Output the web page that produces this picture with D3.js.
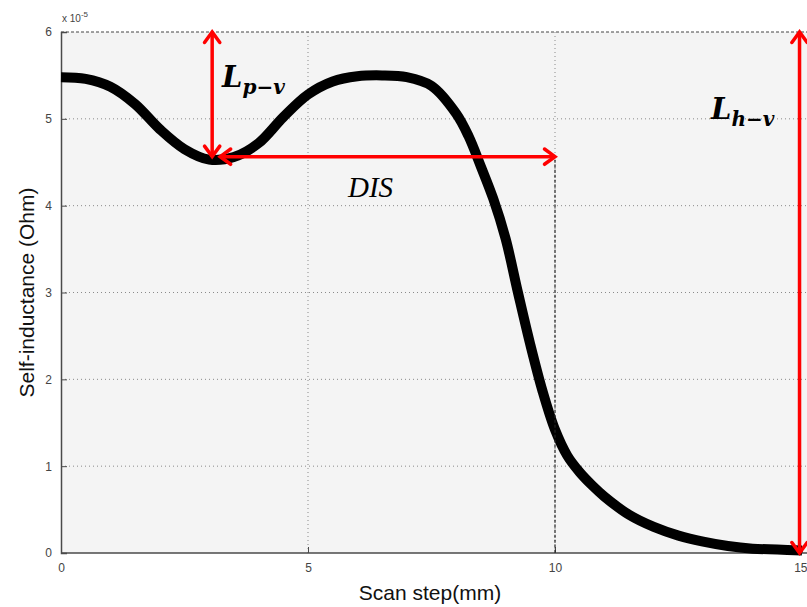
<!DOCTYPE html>
<html>
<head>
<meta charset="utf-8">
<script src="https://cdn.jsdelivr.net/npm/d3@7"></script>
<style>
  body { margin: 0; background: #fff; }
  svg { display: block; }
</style>
</head>
<body>
<div id="chart"></div>
<script>
// scan step (mm) and self-inductance (x 1e-5 Ohm)
const steps = [0, 0.5, 1.0, 1.5, 2.0, 2.5, 3.0, 3.5, 4.0, 4.5, 5.0, 5.5, 6.0, 6.5, 7.0, 7.5,
  8.0, 8.25, 8.5, 8.75, 9.0, 9.25, 9.5, 9.75, 10.0, 10.25, 10.5, 10.75, 11.0, 11.5, 12.0, 12.5,
  13.0, 13.5, 14.0, 14.5, 15.0]
const inductance = [5.48, 5.46, 5.37, 5.17, 4.88, 4.65, 4.53, 4.56, 4.72, 5.02, 5.28, 5.43,
  5.49, 5.50, 5.48, 5.38, 5.06, 4.80, 4.45, 4.08, 3.62, 3.00, 2.40, 1.86, 1.42, 1.12, 0.93,
  0.78, 0.65, 0.44, 0.30, 0.20, 0.13, 0.08, 0.05, 0.04, 0.03]
const xTicks = [0, 5, 10, 15]
const yTicks = [0, 1, 2, 3, 4, 5, 6]

// annotation anchors (data units)
const valley = { x: 3.06, y: 4.53 }
const disEnd = 10
const topY = 6
const rightX = 14.95

const width = 807
const height = 607
const margin = { top: 32, right: 5, bottom: 54, left: 61 }

const svg = d3.select('#chart')
  .append('svg')
  .attr('width', width)
  .attr('height', height)

const x = d3.scaleLinear().domain([0, 15]).range([margin.left, 802])
const y = d3.scaleLinear().domain([0, 6]).range([height - margin.bottom, margin.top])

// ── PLOT BACKGROUND ─────────────────────────────────────────
svg.append('rect')
  .attr('x', x(0))
  .attr('y', y(6))
  .attr('width', width - x(0))
  .attr('height', y(0) - y(6))
  .attr('fill', '#f4f4f4')

// ── GRID ────────────────────────────────────────────────────
const grid = svg.append('g').attr('class', 'grid')
grid.selectAll('.hgrid')
  .data(yTicks.filter(d => d > 0 && d < 6))
  .join('line')
  .attr('x1', x(0)).attr('x2', width)
  .attr('y1', d => y(d)).attr('y2', d => y(d))
  .attr('stroke', '#8a8a8a')
  .attr('stroke-width', 1)
  .attr('stroke-dasharray', '1,3')

grid.selectAll('.vgrid')
  .data(xTicks.filter(d => d > 0 && d < 15))
  .join('line')
  .attr('x1', d => x(d)).attr('x2', d => x(d))
  .attr('y1', y(0)).attr('y2', y(6))
  .attr('stroke', '#8a8a8a')
  .attr('stroke-width', 1)
  .attr('stroke-dasharray', '1,3')

// top border (dashed)
svg.append('line')
  .attr('x1', x(0)).attr('x2', width)
  .attr('y1', y(6)).attr('y2', y(6))
  .attr('stroke', '#444')
  .attr('stroke-width', 1)
  .attr('stroke-dasharray', '3,2')

// ── AXES ────────────────────────────────────────────────────
const xAxis = d3.axisBottom(x).tickValues(xTicks).tickFormat(d3.format('d')).tickSize(-6).tickPadding(10)
const yAxis = d3.axisLeft(y).tickValues(yTicks).tickFormat(d3.format('d')).tickSize(-6).tickPadding(9)

const gx = svg.append('g')
  .attr('transform', `translate(0, ${y(0)})`)
  .call(xAxis)
const gy = svg.append('g')
  .attr('transform', `translate(${x(0)}, 0)`)
  .call(yAxis)

;[gx, gy].forEach(g => {
  g.select('.domain').attr('stroke', '#4a4a4a').attr('stroke-width', 1.5)
  g.selectAll('.tick line').attr('stroke', '#4a4a4a')
  g.selectAll('.tick text')
    .attr('fill', '#444')
    .style('font-family', 'Liberation Sans, Arial, sans-serif')
    .style('font-size', '12px')
})
gx.select('.domain').attr('d', `M${x(0)},0H${width}`)
// the last x label sits at the very edge of the picture, as in the original
gx.selectAll('.tick text').filter(d => d === 15).attr('text-anchor', 'end').attr('dx', 5)

// exponent label
const expo = svg.append('text')
  .attr('x', x(0) + 1)
  .attr('y', 22)
  .attr('fill', '#444')
  .style('font-family', 'Liberation Sans, Arial, sans-serif')
  .style('font-size', '10px')
expo.append('tspan').text('x 10')
expo.append('tspan').attr('dy', -5).style('font-size', '8px').text('-5')

// axis titles
svg.append('text')
  .attr('x', 430)
  .attr('y', 600)
  .attr('text-anchor', 'middle')
  .attr('fill', '#111')
  .style('font-family', 'Liberation Sans, Arial, sans-serif')
  .style('font-size', '21px')
  .text('Scan step(mm)')

svg.append('text')
  .attr('transform', `translate(34, ${(y(0) + y(6)) / 2}) rotate(-90)`)
  .attr('text-anchor', 'middle')
  .attr('fill', '#111')
  .style('font-family', 'Liberation Sans, Arial, sans-serif')
  .style('font-size', '21px')
  .text('Self-inductance (Ohm)')

// ── CURVE ───────────────────────────────────────────────────
const series = steps.map((s, i) => ({ s, v: inductance[i] }))
const line = d3.line()
  .x(d => x(d.s))
  .y(d => y(d.v))
  .curve(d3.curveCatmullRom.alpha(0.5))

svg.append('path')
  .datum(series)
  .attr('d', line)
  .attr('fill', 'none')
  .attr('stroke', '#000')
  .attr('stroke-width', 10)
  .attr('stroke-linejoin', 'round')

// ── ANNOTATIONS ─────────────────────────────────────────────
// dashed drop line at x = 10
svg.append('line')
  .attr('x1', x(disEnd)).attr('x2', x(disEnd))
  .attr('y1', y(valley.y)).attr('y2', y(0))
  .attr('stroke', '#222')
  .attr('stroke-width', 1.2)
  .attr('stroke-dasharray', '3,2')

const red = '#ff0000'
function arrowHead (px, py, angle) {
  const len = 13
  const spread = Math.PI / 5
  const a1 = angle + Math.PI - spread
  const a2 = angle + Math.PI + spread
  svg.append('path')
    .attr('d', `M${px + len * Math.cos(a1)},${py + len * Math.sin(a1)}L${px},${py}L${px + len * Math.cos(a2)},${py + len * Math.sin(a2)}`)
    .attr('fill', 'none')
    .attr('stroke', red)
    .attr('stroke-width', 3.5)
    .attr('stroke-linecap', 'round')
    .attr('stroke-linejoin', 'miter')
}
function doubleArrow (x1, y1, x2, y2) {
  svg.append('line')
    .attr('x1', x1).attr('y1', y1).attr('x2', x2).attr('y2', y2)
    .attr('stroke', red)
    .attr('stroke-width', 3.5)
  const ang = Math.atan2(y2 - y1, x2 - x1)
  arrowHead(x2, y2, ang)
  arrowHead(x1, y1, ang + Math.PI)
}

doubleArrow(x(valley.x), y(topY), x(valley.x), y(valley.y) - 3)
doubleArrow(x(valley.x) + 8, y(valley.y) - 3, x(disEnd), y(valley.y) - 3)
doubleArrow(x(rightX), y(topY), x(rightX), y(0))

// math labels
function mathLabel (px, py, main, sub) {
  const t = svg.append('text')
    .attr('x', px)
    .attr('y', py)
    .attr('fill', '#000')
    .style('font-family', 'DejaVu Serif, Liberation Serif, serif')
    .style('font-weight', 'bold')
    .style('font-style', 'italic')
  t.append('tspan').style('font-size', '29px').text(main)
  if (sub) t.append('tspan').attr('dy', 7).style('font-size', '20px').text(sub)
}
mathLabel(222, 87, 'L', 'p\u2212v')
mathLabel(711, 119, 'L', 'h\u2212v')

svg.append('text')
  .attr('x', 348)
  .attr('y', 197)
  .attr('fill', '#000')
  .style('font-family', 'Liberation Serif, DejaVu Serif, serif')
  .style('font-style', 'italic')
  .style('font-size', '29px')
  .text('DIS')
</script>
</body>
</html>
